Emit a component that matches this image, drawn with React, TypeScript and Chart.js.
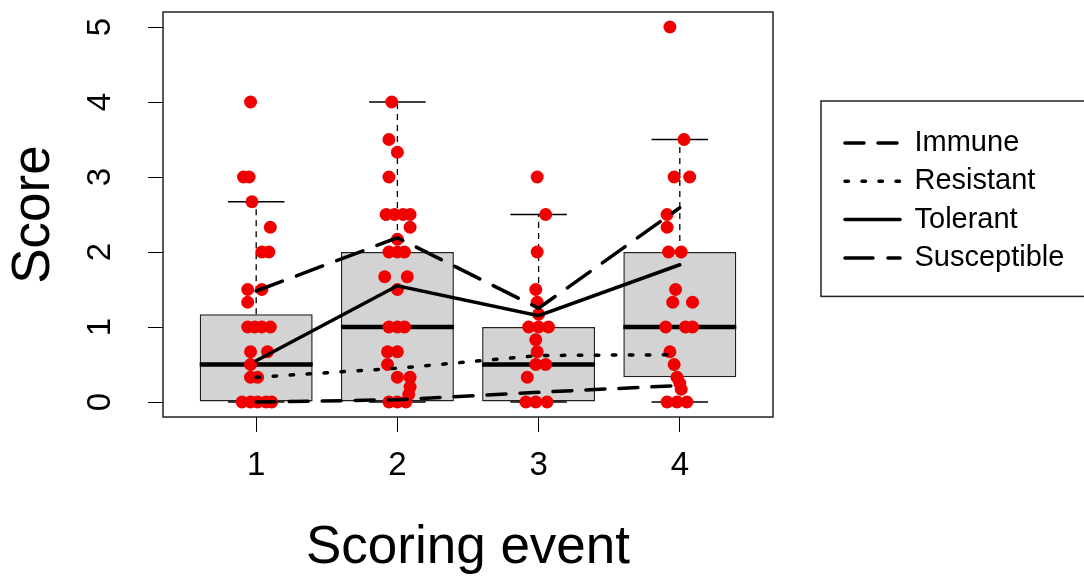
import { useEffect, useRef } from 'react';
import { Chart, registerables } from 'chart.js';

Chart.register(...registerables);

// ---------- data ----------
const categories = [1, 2, 3, 4];
const xTickLabels = ['1', '2', '3', '4'];
const yTickValues = [0, 1, 2, 3, 4, 5];

// boxplot statistics per scoring event
const boxLower = [0, 0, 0, 0.33];
const boxMedian = [0.5, 1, 0.5, 1];
const boxUpper = [1.17, 2, 1, 2];
const whiskerLow = [0, 0, 0, 0];
const whiskerHigh = [2.67, 4, 2.5, 3.5];

// group mean lines
const seriesNames = ['Immune', 'Resistant', 'Tolerant', 'Susceptible'];
const immuneMeans = [0, 0.03, 0.13, 0.22];
const resistantMeans = [0.33, 0.45, 0.62, 0.63];
const tolerantMeans = [0.55, 1.55, 1.15, 1.83];
const susceptibleMeans = [1.48, 2.19, 1.25, 2.59];

// individual (jittered) scores
const event1Scores = [4, 3, 3, 2.67, 2.33, 2, 2, 1.5, 1.5, 1.33, 1, 1, 1, 1, 0.67, 0.67, 0.5, 0.33, 0.33, 0, 0, 0, 0, 0];
const event1Jitter = [-0.04, -0.09, -0.05, -0.03, 0.1, 0.04, 0.09, -0.06, 0.04, -0.06, -0.06, -0.01, 0.04, 0.1, -0.04, 0.08, -0.04, -0.04, 0.01, -0.1, -0.04, 0.01, 0.07, 0.11];
const event2Scores = [4, 3.5, 3.33, 3, 2.5, 2.5, 2.5, 2.5, 2.33, 2.17, 2, 2, 2, 1.67, 1.67, 1.5, 1, 1, 1, 0.67, 0.67, 0.5, 0.33, 0.33, 0.2, 0.1, 0, 0, 0];
const event2Jitter = [-0.04, -0.06, 0, -0.06, -0.08, -0.02, 0.04, 0.09, 0.09, 0, -0.06, 0, 0.05, -0.09, 0.07, 0, -0.06, 0, 0.05, -0.07, 0, -0.07, 0, 0.09, 0.09, 0.08, -0.06, 0, 0.06];
const event3Scores = [3, 2.5, 2, 1.5, 1.33, 1.17, 1, 1, 1, 0.83, 0.67, 0.5, 0.5, 0.33, 0, 0, 0];
const event3Jitter = [-0.01, 0.05, -0.01, -0.02, -0.01, 0, -0.07, 0, 0.07, -0.02, -0.01, -0.02, 0.05, -0.08, -0.09, -0.02, 0.06];
const event4Scores = [5, 3.5, 3, 3, 2.5, 2.33, 2, 2, 1.5, 1.33, 1.33, 1, 1, 1, 0.67, 0.5, 0.33, 0.25, 0.17, 0, 0, 0];
const event4Jitter = [-0.07, 0.03, -0.04, 0.07, -0.09, -0.09, -0.08, 0.01, -0.03, -0.05, 0.09, -0.1, 0.04, 0.09, -0.07, -0.04, -0.02, 0, 0.01, -0.09, -0.02, 0.05];

// ---------- styling ----------
const FONT = "'Liberation Sans', Arial, sans-serif";
const BOX_HALF = 0.4;
const STAPLE_HALF = 0.2;
const TICK_FONT = 33;
const TITLE_FONT = 53;
const LEGEND_FONT = 29;

const scoreSets = [
  [event1Scores, event1Jitter],
  [event2Scores, event2Jitter],
  [event3Scores, event3Jitter],
  [event4Scores, event4Jitter],
];

type P = { x: number; y: number | null };

function segments(build: (c: number, i: number) => P[][]): P[] {
  const out: P[] = [];
  categories.forEach((c, i) => {
    build(c, i).forEach((seg) => {
      out.push(...seg);
      out.push({ x: c, y: null });
    });
  });
  return out;
}

const framePlugin = {
  id: 'rframes',
  afterLayout(chart: any) {
    const lg = chart.legend;
    if (lg) {
      lg.right = chart.width;
      lg.width = lg.right - lg.left;
    }
  },
  afterDatasetsDraw(chart: any) {
    const { ctx, chartArea: a } = chart;
    ctx.save();
    ctx.strokeStyle = '#222';
    ctx.lineWidth = 1.5;
    ctx.setLineDash([]);
    ctx.strokeRect(a.left, a.top, a.right - a.left, a.bottom - a.top);
    ctx.restore();
  },
  afterDraw(chart: any) {
    const lg = chart.legend;
    if (!lg || !lg.legendHitBoxes || !lg.legendHitBoxes.length) return;
    const hb = lg.legendHitBoxes;
    const first = hb[0];
    const last = hb[hb.length - 1];
    const { ctx } = chart;
    const left = first.left - 24;
    const top = first.top - 27.5;
    const bottom = last.top + last.height + 24;
    ctx.save();
    ctx.strokeStyle = '#222';
    ctx.lineWidth = 1.5;
    ctx.setLineDash([]);
    ctx.strokeRect(left, top, chart.width + 10 - left, bottom - top);
    ctx.restore();
  },
};

export default function App() {
  const ref = useRef<HTMLCanvasElement>(null);

  useEffect(() => {
    if (!ref.current) return;
    Chart.defaults.font.family = FONT;
    Chart.defaults.color = '#000';

    const boxData = categories.map((c, i) => ({ x: c, y: [boxLower[i], boxUpper[i]] }));
    const medianData = segments((c, i) => [[{ x: c - BOX_HALF, y: boxMedian[i] }, { x: c + BOX_HALF, y: boxMedian[i] }]]);
    const whiskerData = segments((c, i) => [
      [{ x: c, y: boxUpper[i] }, { x: c, y: whiskerHigh[i] }],
      [{ x: c, y: whiskerLow[i] }, { x: c, y: boxLower[i] }],
    ]);
    const stapleData = segments((c, i) => [
      [{ x: c - STAPLE_HALF, y: whiskerHigh[i] }, { x: c + STAPLE_HALF, y: whiskerHigh[i] }],
      [{ x: c - STAPLE_HALF, y: whiskerLow[i] }, { x: c + STAPLE_HALF, y: whiskerLow[i] }],
    ]);
    const pointData = categories.flatMap((c, i) => {
      const [scores, jit] = scoreSets[i];
      return scores.map((s, k) => ({ x: c + jit[k], y: s }));
    });
    const meanLine = (vals: number[]) => categories.map((c, i) => ({ x: c, y: vals[i] }));

    const lineBase = {
      type: 'line' as const,
      borderColor: '#000',
      backgroundColor: '#000',
      pointRadius: 0,
      pointHoverRadius: 0,
      tension: 0,
      fill: false,
      spanGaps: false,
    };

    const chart = new Chart(ref.current, {
      type: 'bar',
      data: {
        datasets: [
          {
            type: 'bar',
            label: 'box',
            data: boxData as any,
            backgroundColor: '#D3D3D3',
            borderColor: '#222',
            borderWidth: 1.5,
            borderSkipped: false,
            barPercentage: 0.8,
            categoryPercentage: 1,
            order: 10,
          },
          { ...lineBase, label: 'whisker', data: whiskerData as any, borderWidth: 1.3, borderDash: [6, 5], order: 9 },
          { ...lineBase, label: 'staple', data: stapleData as any, borderWidth: 1.3, order: 9 },
          { ...lineBase, label: 'median', data: medianData as any, borderWidth: 4.5, borderCapStyle: 'butt', order: 8 },
          {
            ...lineBase,
            label: 'scores',
            data: pointData as any,
            showLine: false,
            pointRadius: 6.5,
            pointHoverRadius: 6.5,
            pointBackgroundColor: '#F00000',
            pointBorderWidth: 0,
            order: 5,
          },
          { ...lineBase, label: seriesNames[0], data: meanLine(immuneMeans) as any, borderWidth: 3.5, borderDash: [19, 14], borderCapStyle: 'round', order: 1 },
          { ...lineBase, label: seriesNames[1], data: meanLine(resistantMeans) as any, borderWidth: 3.5, borderDash: [3.5, 13.5], borderCapStyle: 'round', order: 2 },
          { ...lineBase, label: seriesNames[2], data: meanLine(tolerantMeans) as any, borderWidth: 3.5, borderDash: [], borderCapStyle: 'round', order: 3 },
          { ...lineBase, label: seriesNames[3], data: meanLine(susceptibleMeans) as any, borderWidth: 3.5, borderDash: [28, 15], borderCapStyle: 'round', order: 4 },
        ] as any,
      },
      options: {
        animation: false,
        responsive: false,
        maintainAspectRatio: false,
        events: [],
        layout: { padding: { top: 12, right: 48.3, left: 0, bottom: 0 } },
        scales: {
          x: {
            type: 'linear',
            min: 0.34,
            max: 4.66,
            offset: false,
            afterBuildTicks: (s: any) => {
              s.ticks = categories.map((v) => ({ value: v }));
            },
            afterFit: (s: any) => {
              s.height = 162;
              s.paddingLeft = 0;
              s.paddingRight = 0;
            },
            grid: { display: true, drawOnChartArea: false, drawTicks: true, tickLength: 15, color: '#000', lineWidth: 1, offset: false },
            border: { display: false },
            ticks: {
              callback: (v: any) => xTickLabels[categories.indexOf(Number(v))] ?? '',
              font: { size: TICK_FONT, family: FONT },
              color: '#000',
              padding: 14,
              maxRotation: 0,
              minRotation: 0,
              autoSkip: false,
            },
            title: {
              display: true,
              text: 'Scoring event',
              font: { size: TITLE_FONT, family: FONT, lineHeight: 1 },
              color: '#000',
              padding: { top: 0, bottom: 4 },
            },
          },
          y: {
            type: 'linear',
            min: -0.2,
            max: 5.2,
            afterBuildTicks: (s: any) => {
              s.ticks = yTickValues.map((v) => ({ value: v }));
            },
            afterFit: (s: any) => {
              s.width = 163;
              s.paddingTop = 0;
              s.paddingBottom = 0;
            },
            grid: { display: true, drawOnChartArea: false, drawTicks: true, tickLength: 15, color: '#000', lineWidth: 1 },
            border: { display: false },
            ticks: {
              callback: (v: any) => String(v),
              font: { size: TICK_FONT, family: FONT },
              color: '#000',
              padding: 38,
              minRotation: 90,
              maxRotation: 90,
              crossAlign: 'center',
              autoSkip: false,
            },
            title: {
              display: true,
              text: 'Score',
              font: { size: TITLE_FONT, family: FONT, lineHeight: 1 },
              color: '#000',
              padding: { top: 7.5, bottom: 0 },
            },
          },
          y2: {
            type: 'linear',
            position: 'right',
            display: true,
            grid: { display: false },
            border: { display: false },
            ticks: { display: false },
            afterFit: (s: any) => {
              s.width = 62.7;
            },
          },
        } as any,
        plugins: {
          tooltip: { enabled: false },
          legend: {
            display: true,
            position: 'right',
            align: 'start',
            maxWidth: 200,
            title: { display: true, text: '', font: { size: 10, lineHeight: 1 }, padding: { top: 97.2, bottom: 0 } },
            labels: {
              usePointStyle: true,
              pointStyle: 'line',
              pointStyleWidth: 55,
              font: { size: LEGEND_FONT, family: FONT },
              color: '#000',
              padding: 9.3,
              generateLabels: (ch: any) => {
                const base = (Chart.defaults.plugins.legend.labels as any).generateLabels(ch);
                return base
                  .filter((it: any) => seriesNames.includes(it.text))
                  .sort((a: any, b: any) => seriesNames.indexOf(a.text) - seriesNames.indexOf(b.text))
                  .map((it: any) => {
                    const ds: any = ch.data.datasets[it.datasetIndex];
                    return {
                      ...it,
                      lineDash: ds.borderDash,
                      lineWidth: ds.borderWidth,
                      lineCap: ds.borderCapStyle,
                      strokeStyle: '#000',
                      fillStyle: '#000',
                      fontColor: '#000',
                    };
                  });
              },
            },
          } as any,
        },
      },
      plugins: [framePlugin],
    });

    return () => chart.destroy();
  }, []);

  return (
    <div style={{ position: 'fixed', left: 0, top: 0, width: 1084, height: 579, background: '#fff' }}>
      <canvas ref={ref} width={1084} height={579} style={{ display: 'block', width: 1084, height: 579 }} />
    </div>
  );
}
